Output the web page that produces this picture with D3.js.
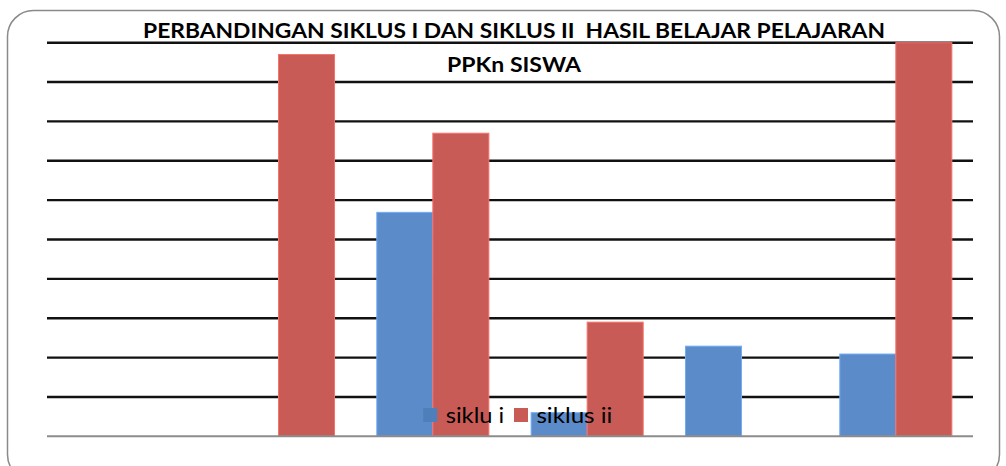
<!DOCTYPE html>
<html lang="id">
<head>
<meta charset="UTF-8">
<title>Perbandingan Siklus I dan Siklus II</title>
<script src="https://d3js.org/d3.v7.min.js"></script>
<style>
  html, body { margin: 0; padding: 0; background: #fff; }
  svg { display: block; }
  text { font-family: Lato, "Open Sans", sans-serif; fill: #000; }
</style>
</head>
<body>
<svg width="1006" height="466"></svg>
<script>
const categories = ["1", "2", "3", "4", "5", "6"];
const seriesNames = ["siklu i", "siklus ii"];
const sikluI = [0, 0, 5.69, 0.6, 2.29, 2.09];
const siklusII = [0, 9.7, 7.7, 2.9, 0, 10];
const gridTicks = [1, 2, 3, 4, 5, 6, 7, 8, 9, 10];
const titleLines = ["PERBANDINGAN SIKLUS I DAN SIKLUS II  HASIL BELAJAR PELAJARAN", "PPKn SISWA"];

const colors = ["#5B8BC8", "#C95B57"];
const legendColors = ["#4F7FBA", "#C95B57"];

const svg = d3.select("svg");
const plot = {left: 47, right: 973, top: 42.7, bottom: 436.3};

// outer frame
svg.append("rect")
  .attr("x", 7.5).attr("y", 10.5)
  .attr("width", 992).attr("height", 470)
  .attr("rx", 26).attr("ry", 26)
  .attr("fill", "#fff")
  .attr("stroke", "#8a8a8a")
  .attr("stroke-width", 1.5);

const x0 = d3.scaleBand()
  .domain(categories)
  .range([plot.left, plot.right])
  .paddingInner(0.274)
  .paddingOuter(0.137);

const x1 = d3.scaleBand()
  .domain(seriesNames)
  .range([0, x0.bandwidth()]);

const y = d3.scaleLinear()
  .domain([0, 10])
  .range([plot.bottom, plot.top]);

// gridlines
svg.append("g")
  .selectAll("line")
  .data(gridTicks)
  .join("line")
  .attr("x1", plot.left).attr("x2", plot.right)
  .attr("y1", d => y(d)).attr("y2", d => y(d))
  .attr("stroke", "#111")
  .attr("stroke-width", 2.4);

// bars
const rows = categories.map((c, i) => ({cat: c, vals: [sikluI[i], siklusII[i]]}));
svg.append("g")
  .selectAll("g")
  .data(rows)
  .join("g")
  .attr("transform", d => `translate(${x0(d.cat)},0)`)
  .selectAll("rect")
  .data(d => d.vals.map((v, j) => ({name: seriesNames[j], v, j})).filter(e => e.v > 0))
  .join("rect")
  .attr("x", d => x1(d.name))
  .attr("y", d => y(d.v))
  .attr("width", x1.bandwidth())
  .attr("height", d => y(0) - y(d.v))
  .attr("fill", d => colors[d.j])
  .attr("stroke", d => d3.color(colors[d.j]).brighter(0.6))
  .attr("stroke-width", 1);

// baseline
svg.append("line")
  .attr("x1", plot.left).attr("x2", plot.right)
  .attr("y1", y(0)).attr("y2", y(0))
  .attr("stroke", "#8c8c8c")
  .attr("stroke-width", 2);

// text stretched to the width of the original (narrower) font
function label(x, yy, str, size, width, anchor, bold) {
  return svg.append("text")
    .attr("x", x).attr("y", yy)
    .attr("text-anchor", anchor)
    .attr("font-size", size)
    .attr("font-weight", bold ? "bold" : "normal")
    .attr("textLength", width)
    .attr("lengthAdjust", "spacingAndGlyphs")
    .style("white-space", "pre")
    .text(str);
}

// title
label(514, 37.5, titleLines[0], 20, 742, "middle", true);
label(514, 71.7, titleLines[1], 20, 134, "middle", true);

// legend
const legendX = [423.3, 514];
const legendW = [58.5, 76];
seriesNames.forEach((name, i) => {
  svg.append("rect")
    .attr("x", legendX[i]).attr("y", 408)
    .attr("width", 14).attr("height", 14)
    .attr("fill", legendColors[i]);
  label(legendX[i] + 22.4, 422.7, name, 21.5, legendW[i], "start", false);
});
</script>
</body>
</html>
